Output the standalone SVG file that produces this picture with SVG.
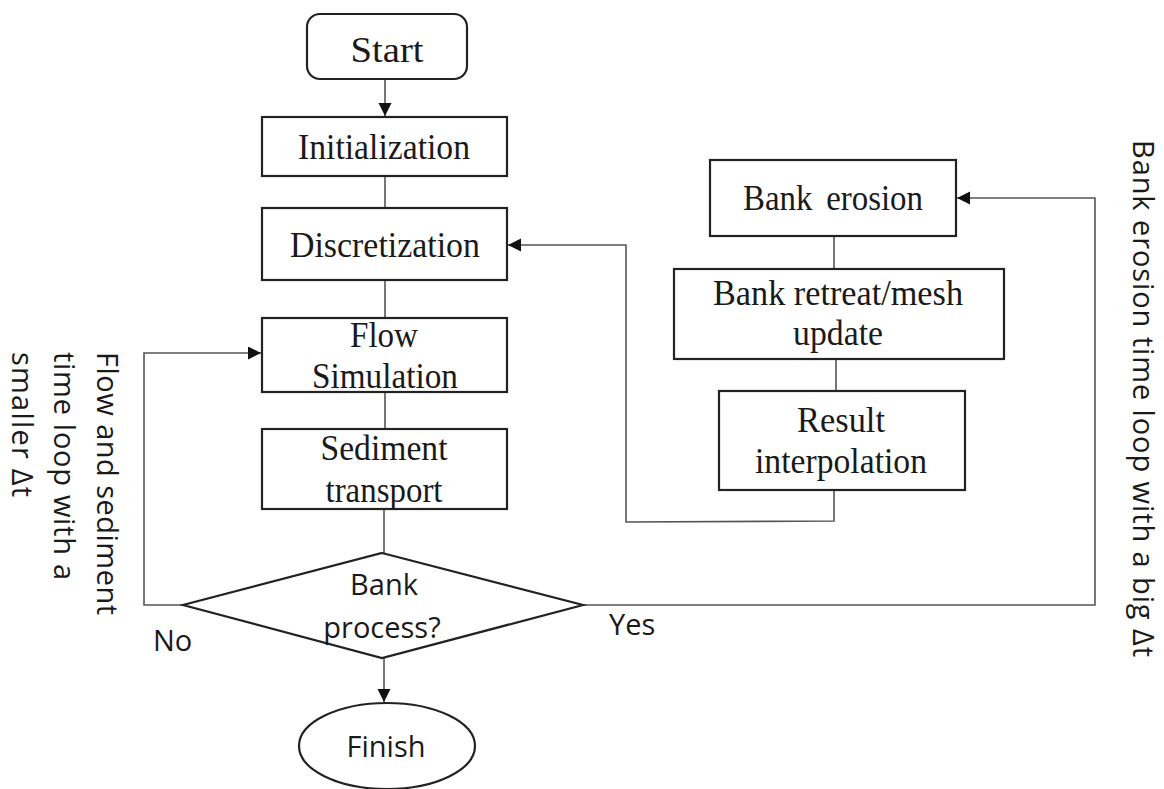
<svg xmlns="http://www.w3.org/2000/svg" width="1164" height="789" viewBox="0 0 1164 789">
  <style>
    .box { fill: #fff; stroke: #222; stroke-width: 2.2; }
    .serif { font-family: "Liberation Serif", "Times New Roman", serif; font-size: 36px; fill: #1a1a1a; text-anchor: middle; }
    .sans { font-family: "Open Sans", "Noto Sans", sans-serif; font-size: 29px; fill: #1a1a1a; }
    .mid { text-anchor: middle; }
    .conn { fill: none; stroke: #555; stroke-width: 1.6; }
  </style>
  <defs>
    <marker id="arrow" markerUnits="userSpaceOnUse" markerWidth="14" markerHeight="14" refX="13" refY="6.5" orient="auto">
      <path d="M0,0 L13,6.5 L0,13 Z" fill="#111"/>
    </marker>
  </defs>
  <rect width="1164" height="789" fill="#fff"/>

  <g id="connectors">
    <line class="conn" x1="385" y1="79" x2="385" y2="116" marker-end="url(#arrow)"/>
    <line class="conn" x1="385" y1="176" x2="385" y2="208"/>
    <line class="conn" x1="385" y1="280" x2="385" y2="318"/>
    <line class="conn" x1="385" y1="392" x2="385" y2="429"/>
    <line class="conn" x1="384" y1="509" x2="384" y2="553"/>
    <line class="conn" x1="384" y1="658" x2="384" y2="702" marker-end="url(#arrow)"/>
    <polyline class="conn" points="183,605 144,605 144,353 261,353" marker-end="url(#arrow)"/>
    <polyline class="conn" points="583,605 1095,605 1095,198 957,198" marker-end="url(#arrow)"/>
    <line class="conn" x1="834" y1="236" x2="834" y2="269"/>
    <line class="conn" x1="836" y1="359" x2="836" y2="391"/>
    <polyline class="conn" points="834,490 834,521 626,522 626,245 508,245" marker-end="url(#arrow)"/>
  </g>

  <g id="start">
    <rect class="box" x="307" y="14" width="160" height="65" rx="13"/>
    <text class="serif" x="387" y="62" font-size="42" textLength="73" lengthAdjust="spacingAndGlyphs">Start</text>
  </g>
  <g id="initialization">
    <rect class="box" x="262" y="117" width="245" height="59"/>
    <text class="serif" x="384" y="159" textLength="172" lengthAdjust="spacingAndGlyphs">Initialization</text>
  </g>
  <g id="discretization">
    <rect class="box" x="262" y="208" width="245" height="72"/>
    <text class="serif" x="385" y="257" textLength="190" lengthAdjust="spacingAndGlyphs">Discretization</text>
  </g>
  <g id="flow-simulation">
    <rect class="box" x="262" y="318" width="245" height="74"/>
    <text class="serif" x="384" y="347" textLength="68" lengthAdjust="spacingAndGlyphs">Flow</text>
    <text class="serif" x="385" y="388" textLength="146" lengthAdjust="spacingAndGlyphs">Simulation</text>
  </g>
  <g id="sediment-transport">
    <rect class="box" x="262" y="429" width="245" height="80"/>
    <text class="serif" x="384" y="460" textLength="127" lengthAdjust="spacingAndGlyphs">Sediment</text>
    <text class="serif" x="384" y="502" textLength="117" lengthAdjust="spacingAndGlyphs">transport</text>
  </g>
  <g id="bank-process">
    <polygon class="box" points="382,553 583,605 382,658 183,605"/>
    <text class="sans mid" x="384" y="595">Bank</text>
    <text class="sans mid" x="382" y="638">process?</text>
  </g>
  <g id="finish">
    <ellipse class="box" cx="387" cy="746" rx="88" ry="43"/>
    <text class="sans mid" x="386" y="757">Finish</text>
  </g>
  <g id="bank-erosion">
    <rect class="box" x="710" y="160" width="246" height="76"/>
    <text class="serif" x="833" y="210" textLength="180" lengthAdjust="spacingAndGlyphs" word-spacing="6">Bank erosion</text>
  </g>
  <g id="bank-retreat">
    <rect class="box" x="674" y="269" width="330" height="90"/>
    <text class="serif" x="838" y="305" textLength="250" lengthAdjust="spacingAndGlyphs">Bank retreat/mesh</text>
    <text class="serif" x="838" y="345" textLength="90" lengthAdjust="spacingAndGlyphs">update</text>
  </g>
  <g id="result-interpolation">
    <rect class="box" x="719" y="391" width="246" height="99"/>
    <text class="serif" x="841" y="432" textLength="88" lengthAdjust="spacingAndGlyphs">Result</text>
    <text class="serif" x="841" y="473" textLength="172" lengthAdjust="spacingAndGlyphs">interpolation</text>
  </g>

  <g id="labels">
    <text class="sans" x="153" y="651">No</text>
    <text class="sans" x="609" y="635" font-size="28">Yes</text>
    <text class="sans" transform="translate(97,352) rotate(90)">
      <tspan x="0" y="0" textLength="263">Flow and sediment</tspan>
      <tspan x="0" y="43" textLength="228">time loop with a</tspan>
      <tspan x="0" y="85" textLength="145">smaller Δt</tspan>
    </text>
    <text class="sans" transform="translate(1133,140) rotate(90)" textLength="517">Bank erosion time loop with a big Δt</text>
  </g>
</svg>
